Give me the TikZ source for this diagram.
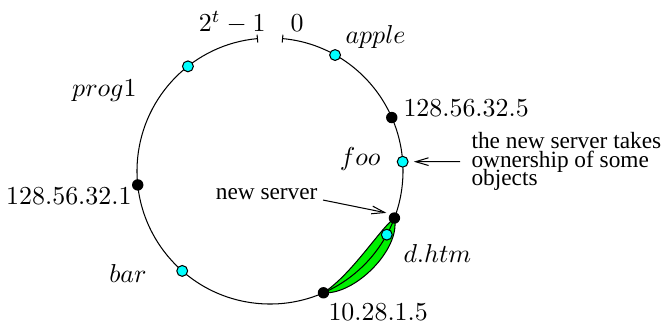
\documentclass[tikz,border=0pt]{standalone}
\usepackage{fontspec}
\newfontfamily\notefont{Liberation Serif}
\usetikzlibrary{arrows.meta}
\definecolor{objcyan}{RGB}{0,255,255}
\definecolor{movegreen}{RGB}{0,240,0}
% tight line spacing of the side note, as in the target
\newcommand\notesetup{\notefont\fontsize{9}{7.1}\selectfont\lineskiplimit=-20pt\relax}

\begin{document}
\begin{tikzpicture}[
  x=0.386pt, y=0.386pt,
  >={Straight Barb[length=5pt, width=3pt]},
  srv/.style={circle, fill=black, inner sep=0pt, minimum size=4.4pt},
  obj/.style={circle, draw, thin, fill=objcyan, inner sep=0pt, minimum size=4.2pt},
  lbl/.style={inner sep=0pt},
  note/.style={inner sep=0pt, align=left, font=\notesetup}
]
\useasboundingbox (-270,-153) rectangle (391,171);
% ring centre is the origin; one unit is one pixel of the target, radius 133
\coordinate (newpos) at (-20.7:133);
\coordinate (oldpos) at (-66.3:133);
% range handed over to the new server, drawn first so the ring runs over it
\filldraw[fill=movegreen, thin] (oldpos) .. controls (82,-103) and (110,-58) .. (newpos)
  .. controls (131,-78) and (85,-124) .. cycle;
\draw[thin, {Bar[width=3pt]}-{Bar[width=3pt]}] (84.8:133)
  arc[start angle=84.8, end angle=-264.8, radius=133];
% servers (black) and objects (cyan) on the ring
\node[obj] (apple) at (60.7:133) {};
\node[srv] (s5)    at (23.7:133) {};
\node[obj] (foo)   at (4:133) {};
\node[srv] (snew)  at (newpos) {};
\node[obj] (dhtm)  at (-28.6:133) {};
\node[srv] (s15)   at (oldpos) {};
\node[obj] (bar)   at (228.7:133) {};
\node[srv] (s1)    at (186:133) {};
\node[obj] (prog)  at (128.1:133) {};
% labels
\node[lbl, anchor=base east] (wrapl)    at (-4,139.5)  {$2^t-1$};
\node[lbl, anchor=base west] (wrapr)    at (20,140)    {$0$};
\node[lbl, anchor=base west] (applelbl) at (75,128)    {$apple$};
\node[lbl, anchor=base west] (s5lbl)    at (133,54.3)  {128.56.32.5};
\node[lbl, anchor=base east] (foolbl)   at (111,6)     {$foo$};
\node[lbl, anchor=base west] (dhtmlbl)  at (133,-91.7) {$d.htm$};
\node[lbl, anchor=base west] (s15lbl)   at (58,-149)   {10.28.1.5};
\node[lbl, anchor=base east] (s1lbl)    at (-138,-33)  {128.56.32.1};
\node[lbl, anchor=base east] (proglbl)  at (-133,75)   {$prog1$};
\node[lbl, anchor=base east] (barlbl)   at (-123,-111) {$bar$};
\node[note, anchor=base east] (newlbl)  at (48,-28)    {new server};
\node[note, anchor=north west] (own)    at (201,39)
  {the new server takes\\ownership of some\\objects};
\draw[->, thin, shorten <=4.2pt, shorten >=2pt] (own.west) -- (foo);
\draw[->, thin, shorten <=2pt, shorten >=1.4pt] (newlbl.base east) -- (snew.north west);
\end{tikzpicture}
\end{document}
